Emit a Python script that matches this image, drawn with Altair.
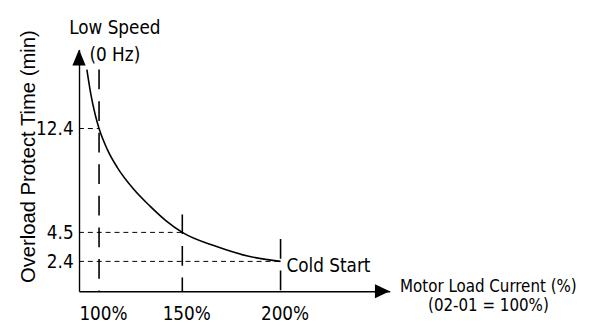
import altair as alt
import pandas as pd

# ---- data ----
curve_current = [92.7, 95.1, 97.6, 100.0, 105.0, 110.9, 120.7, 130.6, 140.1, 150.0, 167.1, 183.8, 200.0]
curve_time = [16.88, 15.00, 13.50, 12.4, 10.8, 9.45, 7.8, 6.5, 5.4, 4.5, 3.49, 2.77, 2.4]

marker_current = [100, 150, 200]
marker_time = [12.4, 4.5, 2.4]
marker_top = [16.88, 5.87, 4.02]

x_ticks = [100, 150, 200]
y_ticks = [2.4, 4.5, 12.4]

X_MIN, X_MAX = 88.0, 255.6
Y_MIN, Y_MAX = 0.236, 18.4

COND = "DejaVu Sans Condensed, Liberation Sans Narrow, sans-serif"
REG = "Liberation Sans, Arial, sans-serif"
FS = 19

xscale = alt.Scale(domain=[X_MIN, 100, 150, 200, X_MAX],
                   range=[0, 20.3, 104.7, 204.3, 315], zero=False, nice=False)
yscale = alt.Scale(domain=[Y_MIN, 2.4, 4.5, 12.4, Y_MAX],
                   range=[245, 214.7, 185.3, 80, 0], zero=False, nice=False)

curve_df = pd.DataFrame({"current": curve_current, "time": curve_time})
mark_df = pd.DataFrame({"current": marker_current, "time": marker_time,
                        "top": marker_top, "bottom": [Y_MIN] * 3, "left": [X_MIN] * 3})

x_axis = alt.Axis(values=x_ticks, labelExpr="datum.value + '%'", ticks=False, grid=False,
                  labelFont=COND, labelFontSize=FS, labelColor="black", labelBaseline="alphabetic",
                  labelPadding=29, labelOffset=4, labelOverlap=False, labelFlush=False,
                  domainColor="black", domainWidth=1.4, title=None)
y_axis = alt.Axis(values=y_ticks, format=".1f", ticks=False, grid=False,
                  labelFont=COND, labelFontSize=FS, labelColor="black", labelPadding=6,
                  labelOverlap=False, labelFlush=False,
                  domainColor="black", domainWidth=1.4,
                  title="Overload Protect Time (min)", titleFont=REG, titleFontSize=20.5,
                  titleFontWeight="normal", titleColor="black", titleAngle=270,
                  titleX=-45, titleY=108, titleBaseline="alphabetic", titleAlign="center")


def xy(xf, yf):
    return dict(x=alt.X(xf, scale=xscale, axis=x_axis), y=alt.Y(yf, scale=yscale, axis=y_axis))


curve = alt.Chart(curve_df).mark_line(color="black", strokeWidth=1.6, interpolate="monotone").encode(
    **xy("current:Q", "time:Q")
)

vlines = alt.Chart(mark_df).mark_rule(color="black", strokeWidth=1.6, strokeDash=[20, 12]).encode(
    **xy("current:Q", "top:Q"), y2="bottom:Q"
)

hlines = alt.Chart(mark_df).mark_rule(color="black", strokeWidth=1, strokeDash=[5, 4]).encode(
    **xy("left:Q", "time:Q"), x2="current:Q"
)

yarrow = alt.Chart(pd.DataFrame({"current": [X_MIN], "time": [Y_MAX]})).mark_point(
    shape="M0,0L-0.42,1L0.42,1Z", size=1024, filled=True, color="black", opacity=1, strokeWidth=0
).encode(**xy("current:Q", "time:Q"))

xarrow = alt.Chart(pd.DataFrame({"current": [X_MAX], "time": [Y_MIN]})).mark_point(
    shape="M0,0L-1,-0.47L-1,0.47Z", size=900, filled=True, color="black", opacity=1, strokeWidth=0
).encode(**xy("current:Q", "time:Q"))


def label(text, x, y, dx, dy, align="center", size=FS):
    return alt.Chart(pd.DataFrame({"current": [x], "time": [y], "t": [text]})).mark_text(
        font=COND, fontSize=size, color="black", align=align, baseline="alphabetic", dx=dx, dy=dy
    ).encode(**xy("current:Q", "time:Q"), text="t:N")


texts = [
    label("Low Speed", 100, Y_MAX, 16, -16),
    label("(0 Hz)", 100, Y_MAX, 16, 12),
    label("Cold Start", 200, 2.4, 6, 10.5, align="left"),
    label("Motor Load Current (%)", X_MAX, Y_MIN, 100, 1, size=17),
    label("(02-01 = 100%)", X_MAX, Y_MIN, 100, 20, size=17),
]

chart = alt.layer(curve, vlines, hlines, yarrow, xarrow, *texts).properties(
    width=315, height=245,
    autosize=alt.AutoSizeParams(type="none"),
    padding={"left": 72, "top": 40, "right": 204, "bottom": 32},
).configure_view(stroke=None)

chart.save("out.html", embed_options={"renderer": "svg", "actions": False})
